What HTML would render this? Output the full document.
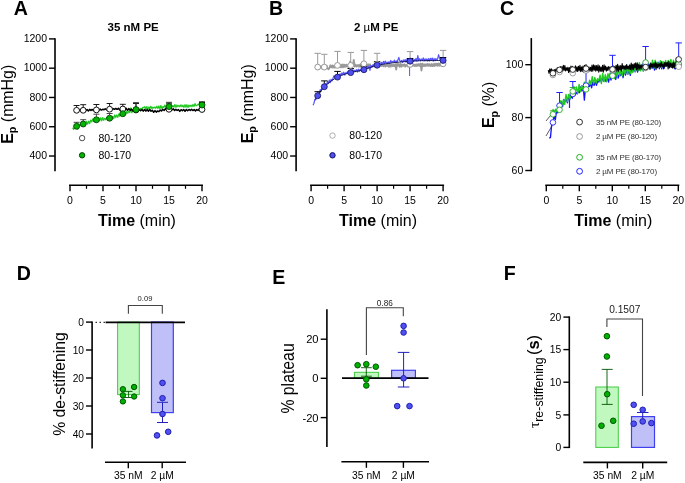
<!DOCTYPE html>
<html><head><meta charset="utf-8"><style>
html,body{margin:0;padding:0;background:#fff;}
svg{display:block;font-family:"Liberation Sans", sans-serif;will-change:transform;filter:blur(0.3px);}
</style></head><body>
<svg width="685" height="483" viewBox="0 0 685 483">
<rect width="685" height="483" fill="#fff"/>
<text x="13.8" y="14.7" font-size="19.6" font-weight="bold" fill="#000" >A</text>
<text x="269" y="14.6" font-size="19.6" font-weight="bold" fill="#000" >B</text>
<text x="500" y="14.6" font-size="19.6" font-weight="bold" fill="#000" >C</text>
<text x="16.8" y="280.3" font-size="19.6" font-weight="bold" fill="#000" >D</text>
<text x="272.3" y="283.6" font-size="19.6" font-weight="bold" fill="#000" >E</text>
<text x="503.8" y="280.3" font-size="19.6" font-weight="bold" fill="#000" >F</text>
<line x1="55" y1="38.2" x2="55" y2="171.2" stroke="#000" stroke-width="1.6" />
<line x1="49" y1="38.9" x2="55" y2="38.9" stroke="#000" stroke-width="1.4" />
<text x="47" y="42.2" font-size="10.5" text-anchor="end" fill="#000" >1200</text>
<line x1="49" y1="68.18" x2="55" y2="68.18" stroke="#000" stroke-width="1.4" />
<text x="47" y="71.48" font-size="10.5" text-anchor="end" fill="#000" >1000</text>
<line x1="49" y1="97.46" x2="55" y2="97.46" stroke="#000" stroke-width="1.4" />
<text x="47" y="100.76" font-size="10.5" text-anchor="end" fill="#000" >800</text>
<line x1="49" y1="126.74" x2="55" y2="126.74" stroke="#000" stroke-width="1.4" />
<text x="47" y="130.04" font-size="10.5" text-anchor="end" fill="#000" >600</text>
<line x1="49" y1="156.02" x2="55" y2="156.02" stroke="#000" stroke-width="1.4" />
<text x="47" y="159.32" font-size="10.5" text-anchor="end" fill="#000" >400</text>
<line x1="69" y1="185.3" x2="203" y2="185.3" stroke="#000" stroke-width="1.6" />
<line x1="70" y1="185.3" x2="70" y2="191.3" stroke="#000" stroke-width="1.4" />
<text x="70" y="203.6" font-size="10.5" text-anchor="middle" fill="#000" >0</text>
<line x1="103" y1="185.3" x2="103" y2="191.3" stroke="#000" stroke-width="1.4" />
<text x="103" y="203.6" font-size="10.5" text-anchor="middle" fill="#000" >5</text>
<line x1="136" y1="185.3" x2="136" y2="191.3" stroke="#000" stroke-width="1.4" />
<text x="136" y="203.6" font-size="10.5" text-anchor="middle" fill="#000" >10</text>
<line x1="169" y1="185.3" x2="169" y2="191.3" stroke="#000" stroke-width="1.4" />
<text x="169" y="203.6" font-size="10.5" text-anchor="middle" fill="#000" >15</text>
<line x1="202" y1="185.3" x2="202" y2="191.3" stroke="#000" stroke-width="1.4" />
<text x="202" y="203.6" font-size="10.5" text-anchor="middle" fill="#000" >20</text>
<line x1="86.5" y1="185.3" x2="86.5" y2="188.8" stroke="#000" stroke-width="1.2" />
<line x1="119.5" y1="185.3" x2="119.5" y2="188.8" stroke="#000" stroke-width="1.2" />
<line x1="152.5" y1="185.3" x2="152.5" y2="188.8" stroke="#000" stroke-width="1.2" />
<line x1="185.5" y1="185.3" x2="185.5" y2="188.8" stroke="#000" stroke-width="1.2" />
<text x="98" y="225.7" font-size="16"><tspan font-weight="bold">Time</tspan> (min)</text>
<line x1="296.1" y1="38.2" x2="296.1" y2="171.2" stroke="#000" stroke-width="1.6" />
<line x1="290.1" y1="38.9" x2="296.1" y2="38.9" stroke="#000" stroke-width="1.4" />
<text x="288.1" y="42.2" font-size="10.5" text-anchor="end" fill="#000" >1200</text>
<line x1="290.1" y1="68.18" x2="296.1" y2="68.18" stroke="#000" stroke-width="1.4" />
<text x="288.1" y="71.48" font-size="10.5" text-anchor="end" fill="#000" >1000</text>
<line x1="290.1" y1="97.46" x2="296.1" y2="97.46" stroke="#000" stroke-width="1.4" />
<text x="288.1" y="100.76" font-size="10.5" text-anchor="end" fill="#000" >800</text>
<line x1="290.1" y1="126.74" x2="296.1" y2="126.74" stroke="#000" stroke-width="1.4" />
<text x="288.1" y="130.04" font-size="10.5" text-anchor="end" fill="#000" >600</text>
<line x1="290.1" y1="156.02" x2="296.1" y2="156.02" stroke="#000" stroke-width="1.4" />
<text x="288.1" y="159.32" font-size="10.5" text-anchor="end" fill="#000" >400</text>
<line x1="310.1" y1="185.3" x2="444.1" y2="185.3" stroke="#000" stroke-width="1.6" />
<line x1="311.1" y1="185.3" x2="311.1" y2="191.3" stroke="#000" stroke-width="1.4" />
<text x="311.1" y="203.6" font-size="10.5" text-anchor="middle" fill="#000" >0</text>
<line x1="344.1" y1="185.3" x2="344.1" y2="191.3" stroke="#000" stroke-width="1.4" />
<text x="344.1" y="203.6" font-size="10.5" text-anchor="middle" fill="#000" >5</text>
<line x1="377.1" y1="185.3" x2="377.1" y2="191.3" stroke="#000" stroke-width="1.4" />
<text x="377.1" y="203.6" font-size="10.5" text-anchor="middle" fill="#000" >10</text>
<line x1="410.1" y1="185.3" x2="410.1" y2="191.3" stroke="#000" stroke-width="1.4" />
<text x="410.1" y="203.6" font-size="10.5" text-anchor="middle" fill="#000" >15</text>
<line x1="443.1" y1="185.3" x2="443.1" y2="191.3" stroke="#000" stroke-width="1.4" />
<text x="443.1" y="203.6" font-size="10.5" text-anchor="middle" fill="#000" >20</text>
<line x1="327.6" y1="185.3" x2="327.6" y2="188.8" stroke="#000" stroke-width="1.2" />
<line x1="360.6" y1="185.3" x2="360.6" y2="188.8" stroke="#000" stroke-width="1.2" />
<line x1="393.6" y1="185.3" x2="393.6" y2="188.8" stroke="#000" stroke-width="1.2" />
<line x1="426.6" y1="185.3" x2="426.6" y2="188.8" stroke="#000" stroke-width="1.2" />
<text x="339.1" y="225.7" font-size="16"><tspan font-weight="bold">Time</tspan> (min)</text>
<line x1="531.3" y1="38.1" x2="531.3" y2="171.2" stroke="#000" stroke-width="1.6" />
<line x1="525.3" y1="64.7" x2="531.3" y2="64.7" stroke="#000" stroke-width="1.4" />
<text x="523.3" y="68" font-size="10.5" text-anchor="end" fill="#000" >100</text>
<line x1="525.3" y1="117.6" x2="531.3" y2="117.6" stroke="#000" stroke-width="1.4" />
<text x="523.3" y="120.9" font-size="10.5" text-anchor="end" fill="#000" >80</text>
<line x1="525.3" y1="170.5" x2="531.3" y2="170.5" stroke="#000" stroke-width="1.4" />
<text x="523.3" y="173.8" font-size="10.5" text-anchor="end" fill="#000" >60</text>
<line x1="545.3" y1="185.3" x2="679.3" y2="185.3" stroke="#000" stroke-width="1.6" />
<line x1="546.3" y1="185.3" x2="546.3" y2="191.3" stroke="#000" stroke-width="1.4" />
<text x="546.3" y="203.6" font-size="10.5" text-anchor="middle" fill="#000" >0</text>
<line x1="579.3" y1="185.3" x2="579.3" y2="191.3" stroke="#000" stroke-width="1.4" />
<text x="579.3" y="203.6" font-size="10.5" text-anchor="middle" fill="#000" >5</text>
<line x1="612.3" y1="185.3" x2="612.3" y2="191.3" stroke="#000" stroke-width="1.4" />
<text x="612.3" y="203.6" font-size="10.5" text-anchor="middle" fill="#000" >10</text>
<line x1="645.3" y1="185.3" x2="645.3" y2="191.3" stroke="#000" stroke-width="1.4" />
<text x="645.3" y="203.6" font-size="10.5" text-anchor="middle" fill="#000" >15</text>
<line x1="678.3" y1="185.3" x2="678.3" y2="191.3" stroke="#000" stroke-width="1.4" />
<text x="678.3" y="203.6" font-size="10.5" text-anchor="middle" fill="#000" >20</text>
<line x1="562.8" y1="185.3" x2="562.8" y2="188.8" stroke="#000" stroke-width="1.2" />
<line x1="595.8" y1="185.3" x2="595.8" y2="188.8" stroke="#000" stroke-width="1.2" />
<line x1="628.8" y1="185.3" x2="628.8" y2="188.8" stroke="#000" stroke-width="1.2" />
<line x1="661.8" y1="185.3" x2="661.8" y2="188.8" stroke="#000" stroke-width="1.2" />
<text x="574.3" y="225.7" font-size="16"><tspan font-weight="bold">Time</tspan> (min)</text>
<text transform="translate(12.5,143.8) rotate(-90)" font-size="15.9"><tspan font-weight="bold">E</tspan><tspan font-weight="bold" font-size="10.8" dy="3.6">p</tspan><tspan dy="-3.6"> (mmHg)</tspan></text>
<text transform="translate(252.7,143.3) rotate(-90)" font-size="15.9"><tspan font-weight="bold">E</tspan><tspan font-weight="bold" font-size="10.8" dy="3.6">p</tspan><tspan dy="-3.6"> (mmHg)</tspan></text>
<text transform="translate(494,128.1) rotate(-90)" font-size="15.9"><tspan font-weight="bold">E</tspan><tspan font-weight="bold" font-size="10.8" dy="3.6">p</tspan><tspan dy="-3.6"> (%)</tspan></text>
<text x="107.6" y="31.1" font-size="11.5" font-weight="bold" fill="#000" >35 nM PE</text>
<text x="354" y="31.1" font-size="11.5" font-weight="bold">2 <tspan font-weight="normal">µ</tspan>M PE</text>
<polyline points="72.64,127.76 73.64,129.36 74.65,126.14 75.65,128.11 76.65,127.74 77.65,129.11 78.66,123.92 79.66,125.7 80.66,124.42 81.67,124.9 82.67,122.75 83.67,125.33 84.67,121.96 85.68,124.38 86.68,121.4 87.68,124.28 88.68,121.09 89.69,123.54 90.69,120.08 91.69,121.93 92.7,119.04 93.7,121.63 94.7,119.06 95.7,120.63 96.71,117.88 97.71,121.36 98.71,117.72 99.72,120.79 100.72,117.8 101.72,120.83 102.72,117.54 103.73,120.36 104.73,118.26 105.73,119.75 106.73,117.6 107.74,120.22 108.74,117.12 109.74,118.8 110.75,117.51 111.75,119.41 112.75,116.32 113.75,118.65 114.76,114.87 115.76,117.57 116.76,114.93 117.77,117.35 118.77,113.98 119.77,116.33 120.77,112.57 121.78,114.98 122.78,111.9 123.78,114.99 124.79,112.66 125.79,114.27 126.79,111.06 127.79,113.35 128.8,111.01 129.8,112.56 130.8,107.87 131.8,112.76 132.81,109.86 133.81,111.03 134.81,109.25 135.82,110.28 136.82,107.97 137.82,110.11 138.82,108.66 139.83,109.95 140.83,108.25 141.83,109.83 142.84,107.27 143.84,107.62 144.84,106.54 145.84,109.44 146.85,106.56 147.85,109.46 148.85,106.97 149.85,108.37 150.86,106.25 151.86,108.8 152.86,107.11 153.87,108.06 154.87,107.03 155.87,108.28 156.87,106.14 157.88,108.53 158.88,105.95 159.88,108.91 160.89,105.46 161.89,108.59 162.89,106.53 163.89,107.43 164.9,105.1 165.9,107.91 166.9,105.75 167.91,107.07 168.91,105.61 169.91,107.17 170.91,104.88 171.92,107.02 172.92,105.6 173.92,107.29 174.92,104.51 175.93,107.42 176.93,104.99 177.93,106.57 178.94,105.44 179.94,106.82 180.94,104.83 181.94,106.83 182.95,105.15 183.95,107.4 184.95,104.67 185.96,107.3 186.96,104.7 187.96,107.54 188.96,105.04 189.97,106.83 190.97,105.02 191.97,106.71 192.97,104.49 193.98,106.57 194.98,103.59 195.98,105.73 196.99,105.33 197.99,104.3 198.99,103.87 199.99,106.16 201,104.43 202,106.04" fill="none" stroke="#1ec81e" stroke-width="1.2" stroke-linejoin="round"/>
<polyline points="76.6,109.24 77.91,111.34 79.21,110.02 80.52,110.6 81.83,109.36 83.13,111.17 84.44,109.46 85.74,110.74 87.05,109.46 88.36,110.93 89.66,109.41 90.97,110.46 92.28,109.46 93.58,110.58 94.89,109.1 96.19,111 97.5,108.8 98.81,110.48 100.11,109.1 101.42,110.09 102.72,109.3 104.03,109.72 105.34,108.77 106.64,109.83 107.95,108.71 109.26,110.22 110.56,108.48 111.87,109.83 113.17,108.65 114.48,109.28 115.79,108.5 117.09,109.32 118.4,108.29 119.71,110.05 121.01,108.15 122.32,109.37 123.62,108.02 124.93,110.02 126.24,108.33 127.54,110.32 128.85,108.53 130.16,110.45 131.46,109.13 132.77,110.86 134.07,108.81 135.38,110.33 136.69,109.15 137.99,110.92 139.3,109.47 140.61,110.79 141.91,109.45 143.22,111.14 144.52,109.46 145.83,111.09 147.14,109.65 148.44,111.25 149.75,109.35 151.06,111.25 152.36,110.25 153.67,112.32 154.97,110.63 156.28,112.12 157.59,110.92 158.89,111.63 160.2,110.03 161.51,110.95 162.81,109.27 164.12,110.45 165.43,108.71 166.73,110.01 168.04,108.3 169.34,110.13 170.65,108.64 171.96,110.06 173.26,108.72 174.57,110.42 175.87,109.37 177.18,110.46 178.49,109.56 179.79,111.41 181.1,109.7 182.41,110.79 183.71,109.55 185.02,111.33 186.32,109.42 187.63,110.78 188.94,109.45 190.24,110.53 191.55,109.38 192.86,110.55 194.16,109.58 195.47,110.9 196.77,109.51 198.08,110.41 199.39,108.68 200.69,110.01 202,109.09" fill="none" stroke="#000" stroke-width="1.5" stroke-linejoin="round"/>
<line x1="76.6" y1="107.3" x2="76.6" y2="105.5" stroke="#000" stroke-width="0.9" />
<line x1="73.6" y1="105.5" x2="79.6" y2="105.5" stroke="#000" stroke-width="0.9" />
<line x1="83.2" y1="107.3" x2="83.2" y2="104.7" stroke="#000" stroke-width="0.9" />
<line x1="80.2" y1="104.7" x2="86.2" y2="104.7" stroke="#000" stroke-width="0.9" />
<line x1="96.4" y1="106.9" x2="96.4" y2="104.5" stroke="#000" stroke-width="0.9" />
<line x1="93.4" y1="104.5" x2="99.4" y2="104.5" stroke="#000" stroke-width="0.9" />
<line x1="109.6" y1="106.2" x2="109.6" y2="103.5" stroke="#000" stroke-width="0.9" />
<line x1="106.6" y1="103.5" x2="112.6" y2="103.5" stroke="#000" stroke-width="0.9" />
<line x1="122.8" y1="106" x2="122.8" y2="104.3" stroke="#000" stroke-width="0.9" />
<line x1="119.8" y1="104.3" x2="125.8" y2="104.3" stroke="#000" stroke-width="0.9" />
<line x1="136" y1="107" x2="136" y2="103.5" stroke="#000" stroke-width="0.9" />
<line x1="133" y1="103.5" x2="139" y2="103.5" stroke="#000" stroke-width="0.9" />
<line x1="169" y1="106.3" x2="169" y2="103.2" stroke="#000" stroke-width="0.9" />
<line x1="166" y1="103.2" x2="172" y2="103.2" stroke="#000" stroke-width="0.9" />
<line x1="202" y1="106.5" x2="202" y2="102.5" stroke="#000" stroke-width="0.9" />
<line x1="199" y1="102.5" x2="205" y2="102.5" stroke="#000" stroke-width="0.9" />
<line x1="76.6" y1="123.3" x2="76.6" y2="122.3" stroke="#333" stroke-width="0.9" />
<line x1="73.6" y1="122.3" x2="79.6" y2="122.3" stroke="#333" stroke-width="0.9" />
<line x1="83.2" y1="121" x2="83.2" y2="119.7" stroke="#333" stroke-width="0.9" />
<line x1="80.2" y1="119.7" x2="86.2" y2="119.7" stroke="#333" stroke-width="0.9" />
<line x1="96.4" y1="116.8" x2="96.4" y2="114.2" stroke="#333" stroke-width="0.9" />
<line x1="93.4" y1="114.2" x2="99.4" y2="114.2" stroke="#333" stroke-width="0.9" />
<line x1="109.6" y1="115.2" x2="109.6" y2="113.5" stroke="#333" stroke-width="0.9" />
<line x1="106.6" y1="113.5" x2="112.6" y2="113.5" stroke="#333" stroke-width="0.9" />
<line x1="122.8" y1="110.7" x2="122.8" y2="109.5" stroke="#333" stroke-width="0.9" />
<line x1="119.8" y1="109.5" x2="125.8" y2="109.5" stroke="#333" stroke-width="0.9" />
<line x1="136" y1="106.6" x2="136" y2="102.6" stroke="#333" stroke-width="0.9" />
<line x1="133" y1="102.6" x2="139" y2="102.6" stroke="#333" stroke-width="0.9" />
<line x1="169" y1="103.6" x2="169" y2="102.3" stroke="#333" stroke-width="0.9" />
<line x1="166" y1="102.3" x2="172" y2="102.3" stroke="#333" stroke-width="0.9" />
<line x1="202" y1="102" x2="202" y2="101.7" stroke="#333" stroke-width="0.9" />
<line x1="199" y1="101.7" x2="205" y2="101.7" stroke="#333" stroke-width="0.9" />
<circle cx="76.6" cy="110.3" r="2.9" fill="#fff" stroke="#111" stroke-width="1.0"/>
<circle cx="83.2" cy="110.3" r="2.9" fill="#fff" stroke="#111" stroke-width="1.0"/>
<circle cx="96.4" cy="109.9" r="2.9" fill="#fff" stroke="#111" stroke-width="1.0"/>
<circle cx="109.6" cy="109.2" r="2.9" fill="#fff" stroke="#111" stroke-width="1.0"/>
<circle cx="122.8" cy="109" r="2.9" fill="#fff" stroke="#111" stroke-width="1.0"/>
<circle cx="136" cy="110" r="2.9" fill="#fff" stroke="#111" stroke-width="1.0"/>
<circle cx="169" cy="109.3" r="2.9" fill="#fff" stroke="#111" stroke-width="1.0"/>
<circle cx="202" cy="109.5" r="2.9" fill="#fff" stroke="#111" stroke-width="1.0"/>
<circle cx="76.6" cy="126.3" r="3.0" fill="#00b400" stroke="#003300" stroke-width="0.8"/>
<circle cx="83.2" cy="124" r="3.0" fill="#00b400" stroke="#003300" stroke-width="0.8"/>
<circle cx="96.4" cy="119.8" r="3.0" fill="#00b400" stroke="#003300" stroke-width="0.8"/>
<circle cx="109.6" cy="118.2" r="3.0" fill="#00b400" stroke="#003300" stroke-width="0.8"/>
<circle cx="122.8" cy="113.7" r="3.0" fill="#00b400" stroke="#003300" stroke-width="0.8"/>
<circle cx="136" cy="109.6" r="3.0" fill="#00b400" stroke="#003300" stroke-width="0.8"/>
<circle cx="169" cy="106.6" r="3.0" fill="#00b400" stroke="#003300" stroke-width="0.8"/>
<circle cx="202" cy="105" r="3.0" fill="#00b400" stroke="#003300" stroke-width="0.8"/>
<circle cx="82.1" cy="138.1" r="2.7" fill="#fff" stroke="#222" stroke-width="0.8"/>
<circle cx="82.1" cy="155.3" r="2.7" fill="#00b400" stroke="#003300" stroke-width="0.9"/>
<text x="98.5" y="141.6" font-size="10.5" fill="#000" >80-120</text>
<text x="98.5" y="158.8" font-size="10.5" fill="#000" >80-170</text>
<polyline points="317.7,66.35 318.6,68 319.5,65.94 320.41,67.63 321.31,66.38 322.21,68.75 323.11,65.73 324.02,68.31 324.92,65.87 325.82,68.07 326.72,65.7 327.62,68.18 328.53,69.36 329.43,67.96 330.33,65.3 331.23,67.42 332.13,65.43 333.04,67.78 333.94,65.6 334.84,67.72 335.74,64.92 336.65,67.09 337.55,65.13 338.45,67.1 339.35,64.7 340.25,67.38 341.16,64.7 342.06,67.38 342.96,64.45 343.86,67.24 344.76,64.56 345.67,66.79 346.57,64.56 347.47,66.59 348.37,65.08 349.28,66.82 350.18,61.42 351.08,67.13 351.98,64.46 352.88,64.45 353.79,59.84 354.69,66.68 355.59,64.58 356.49,66.65 357.39,65.11 358.3,66.6 359.2,64.75 360.1,66.86 361,64.02 361.91,66.34 362.81,64.24 363.71,66.47 364.61,64.67 365.51,66.84 366.42,64.64 367.32,66.61 368.22,64.28 369.12,66.35 370.03,64.31 370.93,66.51 371.83,66.69 372.73,66.49 373.63,64.66 374.54,66.33 375.44,64.36 376.34,66.41 377.24,64.99 378.14,66.8 379.05,64.76 379.95,66.23 380.85,64.51 381.75,66.06 382.66,64.61 383.56,66.42 384.46,64.78 385.36,66.65 386.26,64.45 387.17,66.04 388.07,64.72 388.97,66.83 389.87,64.61 390.77,66.59 391.68,64.52 392.58,66.18 393.48,64.58 394.38,66.31 395.29,64.41 396.19,69.67 397.09,63.75 397.99,65.84 398.89,63.99 399.8,66.87 400.7,63.82 401.6,66.73 402.5,64.66 403.41,65.79 404.31,64.21 405.21,66.72 406.11,64.71 407.01,65.85 407.92,66.64 408.82,66.72 409.72,64.58 410.62,66.28 411.52,64.64 412.43,65.79 413.33,64.55 414.23,65.94 415.13,64.52 416.04,66.16 416.94,64.2 417.84,65.87 418.74,64.04 419.64,65.93 420.55,63.64 421.45,70.53 422.35,63.62 423.25,66.09 424.15,64.2 425.06,66.23 425.96,64.13 426.86,65.85 427.76,63.89 428.67,65.89 429.57,64.29 430.47,66.11 431.37,64.04 432.27,66.11 433.18,64.03 434.08,66.18 434.98,63.64 435.88,65.64 436.78,63.62 437.69,65.82 438.59,63.39 439.49,65.74 440.39,63.47 441.3,65.82 442.2,63.42 443.1,66.27" fill="none" stroke="#999" stroke-width="1.8" stroke-linejoin="round"/>
<polyline points="313.08,105.3 313.98,103.24 314.89,99.44 315.79,99.79 316.69,95.1 317.59,96.29 318.5,93.17 319.4,93.07 320.3,89.49 321.21,91.25 322.11,87.7 323.01,88.79 323.92,84.75 324.82,86.75 325.72,83.6 326.62,84.94 327.53,81.42 328.43,83.53 329.33,80 330.24,82.6 331.14,79.21 332.04,80.89 332.94,78.45 333.85,75.92 334.75,76.09 335.65,78.63 336.56,76.25 337.46,76.78 338.36,74.58 339.26,76.05 340.17,73.82 341.07,75.31 341.97,72.76 342.88,74.78 343.78,72.13 344.68,75.16 345.59,72.8 346.49,73.42 347.39,71.93 348.29,73.29 349.2,71.39 350.1,73.27 351,70.1 351.91,71.95 352.81,69.61 353.71,71.77 354.61,70.26 355.52,71.55 356.42,69.59 357.32,72.1 358.23,69.13 359.13,71.62 360.03,69.3 360.93,70.77 361.84,68.11 362.74,70.32 363.64,68.46 364.55,69.39 365.45,67.01 366.35,68.63 367.26,66.57 368.16,68.28 369.06,65.94 369.96,70.45 370.87,65.52 371.77,67.44 372.67,65.05 373.58,66.34 374.48,63.93 375.38,65.9 376.28,62.94 377.19,64.68 378.09,62.4 378.99,65.55 379.9,62.39 380.8,64.83 381.7,62.27 382.6,64.6 383.51,61.42 384.41,63.43 385.31,61.08 386.22,63.12 387.12,62.02 388.02,63.76 388.93,61.72 389.83,63.38 390.73,60.39 391.63,62.33 392.54,61.48 393.44,62.28 394.34,60.16 395.25,62.7 396.15,60.79 397.05,62.18 397.95,59.78 398.86,57.38 399.76,60.55 400.66,61.72 401.57,60.48 402.47,62.44 403.37,59.95 404.27,61.13 405.18,59.57 406.08,62.28 406.98,58.98 407.89,61.3 408.79,58.62 409.69,61.12 410.6,59.21 411.5,61.1 412.4,58.33 413.3,61.69 414.21,59.42 415.11,60.8 416.01,58.49 416.92,61.42 417.82,55.61 418.72,60.57 419.62,58.67 420.53,60.77 421.43,58.98 422.33,60.54 423.24,57.87 424.14,60.97 425.04,58.81 425.94,60.64 426.85,58.8 427.75,61.08 428.65,58.58 429.56,61.04 430.46,58.25 431.36,60.03 432.27,58.02 433.17,61.2 434.07,58.34 434.97,60.78 435.88,58.58 436.78,60.12 437.68,58.66 438.59,54.59 439.49,57.95 440.39,60.04 441.29,58.37 442.2,61.13 443.1,57.65" fill="none" stroke="#5555ff" stroke-width="1.2" stroke-linejoin="round"/>
<line x1="409.6" y1="62" x2="409.6" y2="76" stroke="#5555ff" stroke-width="1"/>
<polyline points="315.06,99.66 317.23,96.36 319.4,93.17 321.57,89.97 323.74,87.26 325.91,85.23 328.08,83.39 330.25,81.71 332.42,80.17 334.59,78.77 336.76,77.5 338.93,76.38 341.1,75.46 343.27,74.69 345.44,74.03 347.61,73.44 349.78,72.85 351.95,72.27 354.12,71.77 356.29,71.34 358.46,70.93 360.63,70.49 362.8,69.99 364.97,69.38 367.14,68.61 369.31,67.76 371.48,66.91 373.65,66.12 375.82,65.48 377.99,65.04 380.17,64.66 382.34,64.3 384.51,63.96 386.68,63.64 388.85,63.34 391.02,63.06 393.19,62.79 395.36,62.54 397.53,62.3 399.7,62.08 401.87,61.88 404.04,61.68 406.21,61.5 408.38,61.33 410.55,61.17 412.72,61.03 414.89,60.91 417.06,60.82 419.23,60.75 421.4,60.69 423.57,60.64 425.74,60.61 427.91,60.59 430.08,60.56 432.25,60.55 434.42,60.53 436.59,60.51 438.76,60.48 440.93,60.45 443.1,60.4" fill="none" stroke="#101040" stroke-width="0.9"/>
<line x1="317.7" y1="64.1" x2="317.7" y2="53.3" stroke="#999" stroke-width="1.0" />
<line x1="314.5" y1="53.3" x2="320.9" y2="53.3" stroke="#999" stroke-width="1.0" />
<line x1="324.3" y1="64.1" x2="324.3" y2="54.3" stroke="#999" stroke-width="1.0" />
<line x1="321.1" y1="54.3" x2="327.5" y2="54.3" stroke="#999" stroke-width="1.0" />
<line x1="337.5" y1="62.4" x2="337.5" y2="51.4" stroke="#999" stroke-width="1.0" />
<line x1="334.3" y1="51.4" x2="340.7" y2="51.4" stroke="#999" stroke-width="1.0" />
<line x1="350.7" y1="62.4" x2="350.7" y2="52.4" stroke="#999" stroke-width="1.0" />
<line x1="347.5" y1="52.4" x2="353.9" y2="52.4" stroke="#999" stroke-width="1.0" />
<line x1="363.9" y1="60.8" x2="363.9" y2="50.4" stroke="#999" stroke-width="1.0" />
<line x1="360.7" y1="50.4" x2="367.1" y2="50.4" stroke="#999" stroke-width="1.0" />
<line x1="377.1" y1="61.4" x2="377.1" y2="53.3" stroke="#999" stroke-width="1.0" />
<line x1="373.9" y1="53.3" x2="380.3" y2="53.3" stroke="#999" stroke-width="1.0" />
<line x1="410.1" y1="61.4" x2="410.1" y2="51.6" stroke="#999" stroke-width="1.0" />
<line x1="406.9" y1="51.6" x2="413.3" y2="51.6" stroke="#999" stroke-width="1.0" />
<line x1="443.1" y1="60.8" x2="443.1" y2="50.4" stroke="#999" stroke-width="1.0" />
<line x1="439.9" y1="50.4" x2="446.3" y2="50.4" stroke="#999" stroke-width="1.0" />
<line x1="317.7" y1="92.7" x2="317.7" y2="91.7" stroke="#000" stroke-width="1.0" />
<line x1="314.5" y1="91.7" x2="320.9" y2="91.7" stroke="#000" stroke-width="1.0" />
<line x1="324.3" y1="83.7" x2="324.3" y2="80.9" stroke="#000" stroke-width="1.0" />
<line x1="321.1" y1="80.9" x2="327.5" y2="80.9" stroke="#000" stroke-width="1.0" />
<line x1="337.5" y1="74.1" x2="337.5" y2="71.4" stroke="#000" stroke-width="1.0" />
<line x1="334.3" y1="71.4" x2="340.7" y2="71.4" stroke="#000" stroke-width="1.0" />
<line x1="350.7" y1="69.6" x2="350.7" y2="68.5" stroke="#000" stroke-width="1.0" />
<line x1="347.5" y1="68.5" x2="353.9" y2="68.5" stroke="#000" stroke-width="1.0" />
<line x1="363.9" y1="66.7" x2="363.9" y2="66" stroke="#000" stroke-width="1.0" />
<line x1="360.7" y1="66" x2="367.1" y2="66" stroke="#000" stroke-width="1.0" />
<line x1="377.1" y1="62.2" x2="377.1" y2="61.7" stroke="#000" stroke-width="1.0" />
<line x1="373.9" y1="61.7" x2="380.3" y2="61.7" stroke="#000" stroke-width="1.0" />
<line x1="410.1" y1="58.2" x2="410.1" y2="58.5" stroke="#000" stroke-width="1.0" />
<line x1="406.9" y1="58.5" x2="413.3" y2="58.5" stroke="#000" stroke-width="1.0" />
<line x1="443.1" y1="57.4" x2="443.1" y2="57.5" stroke="#000" stroke-width="1.0" />
<line x1="439.9" y1="57.5" x2="446.3" y2="57.5" stroke="#000" stroke-width="1.0" />
<circle cx="317.7" cy="67.1" r="2.9" fill="#fff" stroke="#999" stroke-width="1.0"/>
<circle cx="324.3" cy="67.1" r="2.9" fill="#fff" stroke="#999" stroke-width="1.0"/>
<circle cx="337.5" cy="65.4" r="2.9" fill="#fff" stroke="#999" stroke-width="1.0"/>
<circle cx="350.7" cy="65.4" r="2.9" fill="#fff" stroke="#999" stroke-width="1.0"/>
<circle cx="363.9" cy="63.8" r="2.9" fill="#fff" stroke="#999" stroke-width="1.0"/>
<circle cx="377.1" cy="64.4" r="2.9" fill="#fff" stroke="#999" stroke-width="1.0"/>
<circle cx="410.1" cy="64.4" r="2.9" fill="#fff" stroke="#999" stroke-width="1.0"/>
<circle cx="443.1" cy="63.8" r="2.9" fill="#fff" stroke="#999" stroke-width="1.0"/>
<circle cx="317.7" cy="95.7" r="3.0" fill="#5050f0" stroke="#101060" stroke-width="0.8"/>
<circle cx="324.3" cy="86.7" r="3.0" fill="#5050f0" stroke="#101060" stroke-width="0.8"/>
<circle cx="337.5" cy="77.1" r="3.0" fill="#5050f0" stroke="#101060" stroke-width="0.8"/>
<circle cx="350.7" cy="72.6" r="3.0" fill="#5050f0" stroke="#101060" stroke-width="0.8"/>
<circle cx="363.9" cy="69.7" r="3.0" fill="#5050f0" stroke="#101060" stroke-width="0.8"/>
<circle cx="377.1" cy="65.2" r="3.0" fill="#5050f0" stroke="#101060" stroke-width="0.8"/>
<circle cx="410.1" cy="61.2" r="3.0" fill="#5050f0" stroke="#101060" stroke-width="0.8"/>
<circle cx="443.1" cy="60.4" r="3.0" fill="#5050f0" stroke="#101060" stroke-width="0.8"/>
<circle cx="332.5" cy="135.6" r="2.7" fill="#fff" stroke="#999" stroke-width="0.8"/>
<circle cx="332.5" cy="155.3" r="2.7" fill="#5050f0" stroke="#101060" stroke-width="1.0"/>
<text x="349.3" y="139.1" font-size="10.5" fill="#000" >80-120</text>
<text x="349.3" y="158.8" font-size="10.5" fill="#000" >80-170</text>
<line x1="546" y1="121" x2="552.5" y2="113" stroke="#333" stroke-width="0.8"/>
<line x1="546" y1="136" x2="552.5" y2="125" stroke="#333" stroke-width="0.8"/>
<polyline points="549.28,138.28 550.49,137.4 551.7,124.35 552.91,122.74 554.12,114.96 555.33,119.67 556.54,111.1 557.75,112.91 558.96,107.3 560.16,107.7 561.37,101.46 562.58,106.66 563.79,99.46 565,101.65 566.21,98.64 567.42,102.84 568.63,96.33 569.84,99.43 571.05,94.84 572.26,98.28 573.47,90.93 574.68,95.64 575.89,91.97 577.1,93.96 578.31,90.99 579.52,92.63 580.73,86.79 581.94,91.14 583.15,85.77 584.36,100.16 585.57,86.74 586.77,88.58 587.98,85.44 589.19,86.64 590.4,83.52 591.61,87.94 592.82,81.83 594.03,85.44 595.24,81.57 596.45,85.36 597.66,80.86 598.87,82.05 600.08,78.04 601.29,82.06 602.5,77.46 603.71,81.22 604.92,78.31 606.13,81.77 607.34,77.32 608.55,82.08 609.76,75.81 610.97,80.06 612.18,74.95 613.38,77.53 614.59,75.67 615.8,79.46 617.01,72.55 618.22,78 619.43,73.92 620.64,75.6 621.85,72.51 623.06,77.72 624.27,69.42 625.48,75.21 626.69,70.34 627.9,74.16 629.11,69.93 630.32,75.3 631.53,68.77 632.74,71.61 633.95,67.09 635.16,71.84 636.37,66.44 637.58,72.2 638.79,67.19 639.99,70.28 641.2,65.22 642.41,69.76 643.62,65.09 644.83,68.29 646.04,65.97 647.25,69.38 648.46,64.2 649.67,68.61 650.88,63.55 652.09,68.29 653.3,62.8 654.51,70.14 655.72,63.74 656.93,67.16 658.14,62.1 659.35,68.74 660.56,62.62 661.77,68.87 662.98,62.68 664.19,68.19 665.4,62.63 666.6,66.01 667.81,63.15 669.02,66.53 670.23,62.36 671.44,67.24 672.65,64.18 673.86,66.56 675.07,69.03 676.28,67.56 677.49,63.31 678.7,66.37" fill="none" stroke="#1010ff" stroke-width="1.3" stroke-linejoin="round"/>
<line x1="569.5" y1="95" x2="569.5" y2="108" stroke="#2020ff" stroke-width="1.2"/>
<polyline points="552.92,108.83 554.23,114.55 555.54,109.23 556.85,111.72 558.16,104.97 559.47,108.16 560.78,100.74 562.09,106.34 563.4,99.9 564.71,104.38 566.02,94.44 567.33,101.57 568.64,94.41 569.95,98.68 571.26,91.87 572.57,95.7 573.88,86.39 575.19,92.11 576.5,87.05 577.81,93.37 579.12,84.44 580.43,91.58 581.74,85.61 583.05,89.52 584.37,82.17 585.68,89.47 586.99,82.9 588.3,86.03 589.61,80.25 590.92,84.42 592.23,76.59 593.54,83.85 594.85,77.55 596.16,83.09 597.47,78.62 598.78,80.89 600.09,75.22 601.4,83.67 602.71,73.37 604.02,81.51 605.33,74.59 606.64,81.12 607.95,73.61 609.26,78.69 610.57,71.64 611.88,78.15 613.19,70.89 614.5,78.57 615.81,70.94 617.12,76.6 618.43,68.42 619.74,75.67 621.05,68.71 622.36,75.84 623.67,68.04 624.98,73.67 626.29,66.2 627.6,74.27 628.91,66.54 630.22,73.67 631.53,65.07 632.84,72.51 634.15,66.93 635.46,71.58 636.77,65.47 638.08,70.61 639.39,62.62 640.7,70.85 642.01,64.77 643.32,71.27 644.63,64.2 645.94,67.09 647.25,61.87 648.57,68.43 649.88,64.05 651.19,68.34 652.5,60.26 653.81,68.31 655.12,60.26 656.43,63.89 657.74,62.54 659.05,67.06 660.36,60.76 661.67,67.17 662.98,61.54 664.29,66.01 665.6,60.42 666.91,65.39 668.22,60.38 669.53,66.87 670.84,59.46 672.15,66.72 673.46,60.25 674.77,67.26 676.08,58.3 677.39,64.89 678.7,60.37" fill="none" stroke="#22cc22" stroke-width="1.4" stroke-linejoin="round"/>
<polyline points="548.29,70.03 549.04,73.29 549.79,68.72 550.55,72.73 551.3,68.75 552.06,73.29 552.81,69.85 553.56,73.37 554.32,69.55 555.07,72.76 555.82,69.05 556.58,71.33 557.33,67.61 558.09,73.2 558.84,68.22 559.59,71.16 560.35,66.54 561.1,73.21 561.86,66.58 562.61,71.46 563.36,65.31 564.12,70.34 564.87,65.6 565.62,71.03 566.38,67.71 567.13,70.48 567.89,67.19 568.64,72.55 569.39,67.55 570.15,71.82 570.9,66.14 571.65,71.15 572.41,66.37 573.16,70.17 573.92,67.78 574.67,70.54 575.42,65.85 576.18,71.15 576.93,66.89 577.69,71.56 578.44,66.41 579.19,70.64 579.95,65.32 580.7,71.77 581.45,66.92 582.21,71.34 582.96,66.02 583.72,72.19 584.47,65.35 585.22,70.39 585.98,64.56 586.73,69.84 587.49,66.21 588.24,71.72 588.99,66.98 589.75,70.89 590.5,67.29 591.25,71.4 592.01,65.09 592.76,71.1 593.52,64.74 594.27,70.3 595.02,65.27 595.78,71.13 596.53,65.6 597.29,70.7 598.04,64.8 598.79,72.14 599.55,65.88 600.3,71.29 601.05,67.1 601.81,71.38 602.56,65.32 603.32,72.23 604.07,64.77 604.82,70.08 605.58,66.05 606.33,71.2 607.09,67.11 607.84,70.54 608.59,66.63 609.35,69.47 610.1,66.91 610.85,71.37 611.61,66.65 612.36,69.75 613.12,65.8 613.87,71.55 614.62,66.66 615.38,70.22 616.13,65.18 616.89,71.44 617.64,64.29 618.39,71.3 619.15,65.83 619.9,69.87 620.65,65.51 621.41,71.19 622.16,63.62 622.92,68.9 623.67,65.87 624.42,69.04 625.18,65.6 625.93,69.71 626.69,64.43 627.44,68.94 628.19,66.09 628.95,69.31 629.7,64.89 630.45,69.65 631.21,63.04 631.96,69.92 632.72,64.25 633.47,69.6 634.22,63.67 634.98,67.81 635.73,62.9 636.49,69.89 637.24,62.88 637.99,69.84 638.75,64.23 639.5,68.55 640.25,65 641.01,69.16 641.76,65.03 642.52,67.37 643.27,64.5 644.02,67.57 644.78,64.02 645.53,67.16 646.28,64.96 647.04,67.38 647.79,64.58 648.55,67.94 649.3,64.73 650.05,69.4 650.81,62.89 651.56,67.15 652.32,63.91 653.07,67.67 653.82,63.5 654.58,66.93 655.33,61.98 656.08,69.47 656.84,63.06 657.59,67.87 658.35,64.13 659.1,66.66 659.85,63.29 660.61,67.08 661.36,61.77 662.12,66.7 662.87,64.12 663.62,69.01 664.38,62.54 665.13,66.53 665.88,62.43 666.64,66.11 667.39,62.41 668.15,68.9 668.9,61.34 669.65,67.98 670.41,63.08 671.16,66.93 671.92,63.3 672.67,68.08 673.42,62.14 674.18,68.04 674.93,62.68 675.68,66.3 676.44,61.17 677.19,68.52 677.95,60.98 678.7,67.92" fill="none" stroke="#000" stroke-width="1.1" stroke-linejoin="round"/>
<line x1="559.54" y1="102.7" x2="559.54" y2="92.5" stroke="#2020ff" stroke-width="1.0" />
<line x1="556.34" y1="92.5" x2="562.74" y2="92.5" stroke="#2020ff" stroke-width="1.0" />
<line x1="572.78" y1="91" x2="572.78" y2="81.5" stroke="#2020ff" stroke-width="1.0" />
<line x1="569.58" y1="81.5" x2="575.98" y2="81.5" stroke="#2020ff" stroke-width="1.0" />
<line x1="586.02" y1="82.6" x2="586.02" y2="71.6" stroke="#2020ff" stroke-width="1.0" />
<line x1="582.82" y1="71.6" x2="589.22" y2="71.6" stroke="#2020ff" stroke-width="1.0" />
<line x1="612.5" y1="72" x2="612.5" y2="55.3" stroke="#2020ff" stroke-width="1.0" />
<line x1="609.3" y1="55.3" x2="615.7" y2="55.3" stroke="#2020ff" stroke-width="1.0" />
<line x1="645.6" y1="61" x2="645.6" y2="46.5" stroke="#2020ff" stroke-width="1.0" />
<line x1="642.4" y1="46.5" x2="648.8" y2="46.5" stroke="#2020ff" stroke-width="1.0" />
<line x1="678.7" y1="62" x2="678.7" y2="42.9" stroke="#2020ff" stroke-width="1.0" />
<line x1="675.5" y1="42.9" x2="681.9" y2="42.9" stroke="#2020ff" stroke-width="1.0" />
<line x1="552.92" y1="111.3" x2="552.92" y2="110.8" stroke="#22aa22" stroke-width="0.9" />
<line x1="549.92" y1="110.8" x2="555.92" y2="110.8" stroke="#22aa22" stroke-width="0.9" />
<line x1="559.54" y1="106.8" x2="559.54" y2="105.5" stroke="#22aa22" stroke-width="0.9" />
<line x1="556.54" y1="105.5" x2="562.54" y2="105.5" stroke="#22aa22" stroke-width="0.9" />
<line x1="572.78" y1="88.4" x2="572.78" y2="87.5" stroke="#22aa22" stroke-width="0.9" />
<line x1="569.78" y1="87.5" x2="575.78" y2="87.5" stroke="#22aa22" stroke-width="0.9" />
<circle cx="552.92" cy="122.4" r="2.8" fill="#fff" stroke="#2020ff" stroke-width="0.9"/>
<circle cx="559.54" cy="105.7" r="2.8" fill="#fff" stroke="#2020ff" stroke-width="0.9"/>
<circle cx="572.78" cy="94" r="2.8" fill="#fff" stroke="#2020ff" stroke-width="0.9"/>
<circle cx="586.02" cy="85.6" r="2.8" fill="#fff" stroke="#2020ff" stroke-width="0.9"/>
<circle cx="612.5" cy="75" r="2.8" fill="#fff" stroke="#2020ff" stroke-width="0.9"/>
<circle cx="645.6" cy="64" r="2.8" fill="#fff" stroke="#2020ff" stroke-width="0.9"/>
<circle cx="678.7" cy="65" r="2.8" fill="#fff" stroke="#2020ff" stroke-width="0.9"/>
<circle cx="552.92" cy="114.3" r="2.8" fill="#fff" stroke="#22aa22" stroke-width="0.9"/>
<circle cx="559.54" cy="109.8" r="2.8" fill="#fff" stroke="#22aa22" stroke-width="0.9"/>
<circle cx="572.78" cy="91.4" r="2.8" fill="#fff" stroke="#22aa22" stroke-width="0.9"/>
<circle cx="586.02" cy="89.4" r="2.8" fill="#fff" stroke="#22aa22" stroke-width="0.9"/>
<circle cx="612.5" cy="75.7" r="2.8" fill="#fff" stroke="#22aa22" stroke-width="0.9"/>
<circle cx="645.6" cy="62.5" r="2.8" fill="#fff" stroke="#22aa22" stroke-width="0.9"/>
<circle cx="678.7" cy="63.9" r="2.8" fill="#fff" stroke="#22aa22" stroke-width="0.9"/>
<circle cx="552.92" cy="75" r="2.8" fill="#fff" stroke="#999" stroke-width="0.9"/>
<circle cx="559.54" cy="72" r="2.8" fill="#fff" stroke="#999" stroke-width="0.9"/>
<circle cx="572.78" cy="73.2" r="2.8" fill="#fff" stroke="#999" stroke-width="0.9"/>
<circle cx="586.02" cy="70.5" r="2.8" fill="#fff" stroke="#999" stroke-width="0.9"/>
<circle cx="612.5" cy="70.2" r="2.8" fill="#fff" stroke="#999" stroke-width="0.9"/>
<circle cx="645.6" cy="68" r="2.8" fill="#fff" stroke="#999" stroke-width="0.9"/>
<circle cx="678.7" cy="66.7" r="2.8" fill="#fff" stroke="#999" stroke-width="0.9"/>
<circle cx="552.92" cy="73.3" r="2.8" fill="#fff" stroke="#222" stroke-width="0.9"/>
<circle cx="559.54" cy="69.9" r="2.8" fill="#fff" stroke="#222" stroke-width="0.9"/>
<circle cx="572.78" cy="69.6" r="2.8" fill="#fff" stroke="#222" stroke-width="0.9"/>
<circle cx="586.02" cy="68.6" r="2.8" fill="#fff" stroke="#222" stroke-width="0.9"/>
<circle cx="612.5" cy="69.4" r="2.8" fill="#fff" stroke="#222" stroke-width="0.9"/>
<circle cx="645.6" cy="67.1" r="2.8" fill="#fff" stroke="#222" stroke-width="0.9"/>
<circle cx="678.7" cy="59.4" r="2.8" fill="#fff" stroke="#222" stroke-width="0.9"/>
<circle cx="579.6" cy="122.1" r="2.9" fill="#fff" stroke="#333" stroke-width="1.0"/>
<text x="596" y="125" font-size="8.0" fill="#333" letter-spacing="-0.15">35 nM PE (80-120)</text>
<circle cx="579.6" cy="136.5" r="2.9" fill="#fff" stroke="#999" stroke-width="1.0"/>
<text x="596" y="139.4" font-size="8.0" fill="#333" letter-spacing="-0.15">2 µM PE (80-120)</text>
<circle cx="579.6" cy="157.3" r="2.9" fill="#fff" stroke="#22aa22" stroke-width="1.0"/>
<text x="596" y="160.2" font-size="8.0" fill="#333" letter-spacing="-0.15">35 nM PE (80-170)</text>
<circle cx="579.6" cy="171.3" r="2.9" fill="#fff" stroke="#2020ff" stroke-width="1.0"/>
<text x="596" y="174.2" font-size="8.0" fill="#333" letter-spacing="-0.15">2 µM PE (80-170)</text>
<line x1="92.1" y1="321.4" x2="92.1" y2="448.6" stroke="#000" stroke-width="1.6" />
<line x1="86" y1="322.1" x2="92.1" y2="322.1" stroke="#000" stroke-width="1.4" />
<text x="84" y="325.7" font-size="10.2" text-anchor="end" fill="#000" >0</text>
<line x1="86" y1="350" x2="92.1" y2="350" stroke="#000" stroke-width="1.4" />
<text x="84" y="353.6" font-size="10.2" text-anchor="end" fill="#000" >10</text>
<line x1="86" y1="378" x2="92.1" y2="378" stroke="#000" stroke-width="1.4" />
<text x="84" y="381.6" font-size="10.2" text-anchor="end" fill="#000" >20</text>
<line x1="86" y1="406" x2="92.1" y2="406" stroke="#000" stroke-width="1.4" />
<text x="84" y="409.6" font-size="10.2" text-anchor="end" fill="#000" >30</text>
<line x1="86" y1="434" x2="92.1" y2="434" stroke="#000" stroke-width="1.4" />
<text x="84" y="437.6" font-size="10.2" text-anchor="end" fill="#000" >40</text>
<line x1="95.60000000000001" y1="322.3" x2="96.8" y2="322.3" stroke="#000" stroke-width="1.3"/>
<line x1="99.60000000000001" y1="322.3" x2="100.8" y2="322.3" stroke="#000" stroke-width="1.3"/>
<line x1="103.60000000000001" y1="322.3" x2="104.8" y2="322.3" stroke="#000" stroke-width="1.3"/>
<rect x="117.6" y="322.1" width="21.7" height="72.5" fill="#c0f8c0" stroke="#40cc40" stroke-width="1"/>
<rect x="151.5" y="322.1" width="21.8" height="90.5" fill="#c0c0f8" stroke="#4040f0" stroke-width="1.2"/>
<line x1="105.6" y1="322.3" x2="185" y2="322.3" stroke="#000" stroke-width="1.8" />
<line x1="128.6" y1="391.4" x2="128.6" y2="397.5" stroke="#005500" stroke-width="0.9" />
<line x1="125" y1="391.4" x2="132.5" y2="391.4" stroke="#005500" stroke-width="0.9" />
<line x1="125" y1="397.5" x2="132.5" y2="397.5" stroke="#005500" stroke-width="0.9" />
<circle cx="122.9" cy="389.2" r="2.7" fill="#00b000" stroke="#005500" stroke-width="1.0"/>
<circle cx="134.1" cy="387" r="2.7" fill="#00b000" stroke="#005500" stroke-width="1.0"/>
<circle cx="122.9" cy="395.3" r="2.7" fill="#00b000" stroke="#005500" stroke-width="1.0"/>
<circle cx="134.1" cy="396.5" r="2.7" fill="#00b000" stroke="#005500" stroke-width="1.0"/>
<circle cx="122.9" cy="401.4" r="2.7" fill="#00b000" stroke="#005500" stroke-width="1.0"/>
<line x1="162.5" y1="402.3" x2="162.5" y2="422.5" stroke="#2020c0" stroke-width="1.0" />
<line x1="157" y1="402.3" x2="168" y2="402.3" stroke="#2020c0" stroke-width="1.0" />
<line x1="157" y1="422.5" x2="168" y2="422.5" stroke="#2020c0" stroke-width="1.0" />
<circle cx="162.5" cy="382.9" r="2.8" fill="#5050f0" stroke="#2020b0" stroke-width="1.0"/>
<circle cx="162.5" cy="398.2" r="2.8" fill="#5050f0" stroke="#2020b0" stroke-width="1.0"/>
<circle cx="162.5" cy="414" r="2.8" fill="#5050f0" stroke="#2020b0" stroke-width="1.0"/>
<circle cx="157" cy="435.4" r="2.8" fill="#5050f0" stroke="#2020b0" stroke-width="1.0"/>
<circle cx="168.2" cy="431.8" r="2.8" fill="#5050f0" stroke="#2020b0" stroke-width="1.0"/>
<polyline points="128.4,313.7 128.4,305.5 162.3,305.5 162.3,313.7" fill="none" stroke="#444" stroke-width="1.1"/>
<text x="145" y="301.1" font-size="7.6" text-anchor="middle" fill="#222" >0.09</text>
<line x1="105" y1="462.2" x2="186" y2="462.2" stroke="#000" stroke-width="1.6" />
<line x1="128.3" y1="462.2" x2="128.3" y2="468.2" stroke="#000" stroke-width="1.4" />
<line x1="162.2" y1="462.2" x2="162.2" y2="468.2" stroke="#000" stroke-width="1.4" />
<text x="128.3" y="478.8" font-size="10.3" text-anchor="middle" fill="#000" >35 nM</text>
<text x="162.2" y="478.8" font-size="10.3" text-anchor="middle" fill="#000" >2 µM</text>
<text transform="translate(65.2,435.8) rotate(-90) scale(1.02,1.13)" font-size="15.4">% de-stiffening</text>
<line x1="326.9" y1="309.3" x2="326.9" y2="447.1" stroke="#000" stroke-width="1.6" />
<line x1="320.7" y1="339.2" x2="326.9" y2="339.2" stroke="#000" stroke-width="1.4" />
<text x="318.6" y="343.1" font-size="11.2" text-anchor="end" fill="#000" >20</text>
<line x1="320.7" y1="378.3" x2="326.9" y2="378.3" stroke="#000" stroke-width="1.4" />
<text x="318.6" y="382.2" font-size="11.2" text-anchor="end" fill="#000" >0</text>
<line x1="320.7" y1="417.6" x2="326.9" y2="417.6" stroke="#000" stroke-width="1.4" />
<text x="318.6" y="421.5" font-size="11.2" text-anchor="end" fill="#000" >-20</text>
<rect x="354.4" y="372.3" width="24" height="5.8" fill="#c0f8c0" stroke="#40cc40" stroke-width="1"/>
<rect x="391.6" y="370.3" width="23.8" height="7.8" fill="#c0c0f8" stroke="#4040f0" stroke-width="1.2"/>
<line x1="342" y1="378.2" x2="428.5" y2="378.2" stroke="#000" stroke-width="1.8" />
<line x1="366.3" y1="367.7" x2="366.3" y2="376.2" stroke="#005500" stroke-width="0.9" />
<line x1="361" y1="367.7" x2="371.8" y2="367.7" stroke="#005500" stroke-width="0.9" />
<line x1="361" y1="376.2" x2="371.8" y2="376.2" stroke="#005500" stroke-width="0.9" />
<circle cx="357.6" cy="365.2" r="2.8" fill="#00b000" stroke="#005500" stroke-width="1.0"/>
<circle cx="366.3" cy="364.2" r="2.8" fill="#00b000" stroke="#005500" stroke-width="1.0"/>
<circle cx="375.8" cy="366.7" r="2.8" fill="#00b000" stroke="#005500" stroke-width="1.0"/>
<circle cx="366.3" cy="379.3" r="2.8" fill="#00b000" stroke="#005500" stroke-width="1.0"/>
<circle cx="366.3" cy="385.5" r="2.8" fill="#00b000" stroke="#005500" stroke-width="1.0"/>
<line x1="403.6" y1="352.4" x2="403.6" y2="387" stroke="#2020c0" stroke-width="1.0" />
<line x1="397.8" y1="352.4" x2="409.4" y2="352.4" stroke="#2020c0" stroke-width="1.0" />
<line x1="397.8" y1="387" x2="409.4" y2="387" stroke="#2020c0" stroke-width="1.0" />
<circle cx="403.6" cy="325.9" r="2.8" fill="#5050f0" stroke="#2020b0" stroke-width="1.0"/>
<circle cx="403.6" cy="332.5" r="2.8" fill="#5050f0" stroke="#2020b0" stroke-width="1.0"/>
<circle cx="403.6" cy="378.3" r="2.8" fill="#5050f0" stroke="#2020b0" stroke-width="1.0"/>
<circle cx="397.2" cy="406.1" r="2.8" fill="#5050f0" stroke="#2020b0" stroke-width="1.0"/>
<circle cx="409.5" cy="406.1" r="2.8" fill="#5050f0" stroke="#2020b0" stroke-width="1.0"/>
<polyline points="366.4,354.9 366.4,307.8 403.3,307.8 403.3,316.2" fill="none" stroke="#444" stroke-width="1.1"/>
<text x="384.8" y="306" font-size="8.2" text-anchor="middle" fill="#222" >0.86</text>
<line x1="341.4" y1="461.8" x2="429" y2="461.8" stroke="#000" stroke-width="1.6" />
<line x1="366.4" y1="461.8" x2="366.4" y2="467.8" stroke="#000" stroke-width="1.4" />
<line x1="403.4" y1="461.8" x2="403.4" y2="467.8" stroke="#000" stroke-width="1.4" />
<text x="366.4" y="478.8" font-size="10.3" text-anchor="middle" fill="#000" >35 nM</text>
<text x="403.4" y="478.8" font-size="10.3" text-anchor="middle" fill="#000" >2 µM</text>
<text transform="translate(293.6,413.6) rotate(-90) scale(1.02,1.13)" font-size="15.5">% plateau</text>
<line x1="569.3" y1="316.4" x2="569.3" y2="448.1" stroke="#000" stroke-width="1.6" />
<line x1="563.4" y1="317.1" x2="569.3" y2="317.1" stroke="#000" stroke-width="1.4" />
<text x="561.3" y="320.8" font-size="10.3" text-anchor="end" fill="#000" >20</text>
<line x1="563.4" y1="349.6" x2="569.3" y2="349.6" stroke="#000" stroke-width="1.4" />
<text x="561.3" y="353.3" font-size="10.3" text-anchor="end" fill="#000" >15</text>
<line x1="563.4" y1="382.2" x2="569.3" y2="382.2" stroke="#000" stroke-width="1.4" />
<text x="561.3" y="385.9" font-size="10.3" text-anchor="end" fill="#000" >10</text>
<line x1="563.4" y1="414.9" x2="569.3" y2="414.9" stroke="#000" stroke-width="1.4" />
<text x="561.3" y="418.6" font-size="10.3" text-anchor="end" fill="#000" >5</text>
<line x1="563.4" y1="447.4" x2="569.3" y2="447.4" stroke="#000" stroke-width="1.4" />
<text x="561.3" y="451.1" font-size="10.3" text-anchor="end" fill="#000" >0</text>
<rect x="595.8" y="387" width="22.5" height="60.4" fill="#c0f8c0" stroke="#40cc40" stroke-width="1"/>
<rect x="631.5" y="416.6" width="23" height="30.8" fill="#c0c0f8" stroke="#4040f0" stroke-width="1.2"/>
<line x1="607" y1="369.4" x2="607" y2="404.4" stroke="#005500" stroke-width="0.9" />
<line x1="601.7" y1="369.4" x2="612.7" y2="369.4" stroke="#005500" stroke-width="0.9" />
<line x1="601.7" y1="404.4" x2="612.7" y2="404.4" stroke="#005500" stroke-width="0.9" />
<circle cx="606.9" cy="336.2" r="2.8" fill="#00b000" stroke="#005500" stroke-width="1.0"/>
<circle cx="606.9" cy="356.5" r="2.8" fill="#00b000" stroke="#005500" stroke-width="1.0"/>
<circle cx="607.2" cy="394.2" r="2.8" fill="#00b000" stroke="#005500" stroke-width="1.0"/>
<circle cx="601.5" cy="425.7" r="2.8" fill="#00b000" stroke="#005500" stroke-width="1.0"/>
<circle cx="613.2" cy="420.8" r="2.8" fill="#00b000" stroke="#005500" stroke-width="1.0"/>
<line x1="642.7" y1="412.5" x2="642.7" y2="421" stroke="#2020c0" stroke-width="1.0" />
<line x1="637" y1="412.5" x2="648.5" y2="412.5" stroke="#2020c0" stroke-width="1.0" />
<circle cx="633.7" cy="404.8" r="2.8" fill="#5050f0" stroke="#2020b0" stroke-width="1.0"/>
<circle cx="642.7" cy="409.8" r="2.8" fill="#5050f0" stroke="#2020b0" stroke-width="1.0"/>
<circle cx="633.7" cy="423.7" r="2.8" fill="#5050f0" stroke="#2020b0" stroke-width="1.0"/>
<circle cx="642.7" cy="421.4" r="2.8" fill="#5050f0" stroke="#2020b0" stroke-width="1.0"/>
<circle cx="651.4" cy="423.1" r="2.8" fill="#5050f0" stroke="#2020b0" stroke-width="1.0"/>
<polyline points="606.9,326.9 606.9,319 642.5,319 642.5,395.9" fill="none" stroke="#444" stroke-width="1.1"/>
<text x="624.8" y="313" font-size="10.2" text-anchor="middle" fill="#222" >0.1507</text>
<line x1="583.3" y1="462.4" x2="667.2" y2="462.4" stroke="#000" stroke-width="1.6" />
<line x1="607.4" y1="462.4" x2="607.4" y2="468.4" stroke="#000" stroke-width="1.4" />
<line x1="642.7" y1="462.4" x2="642.7" y2="468.4" stroke="#000" stroke-width="1.4" />
<text x="607.4" y="478.8" font-size="10.3" text-anchor="middle" fill="#000" >35 nM</text>
<text x="642.7" y="478.8" font-size="10.3" text-anchor="middle" fill="#000" >2 µM</text>
<text transform="translate(538.6,428) rotate(-90)"><tspan font-size="15.5" font-family="Liberation Serif">τ</tspan><tspan font-size="12.4" dy="4.3">re-stiffening</tspan><tspan font-size="16.5" dy="-4.3" dx="-2.4"> (<tspan font-weight="bold">s</tspan>)</tspan></text>
</svg></body></html>
